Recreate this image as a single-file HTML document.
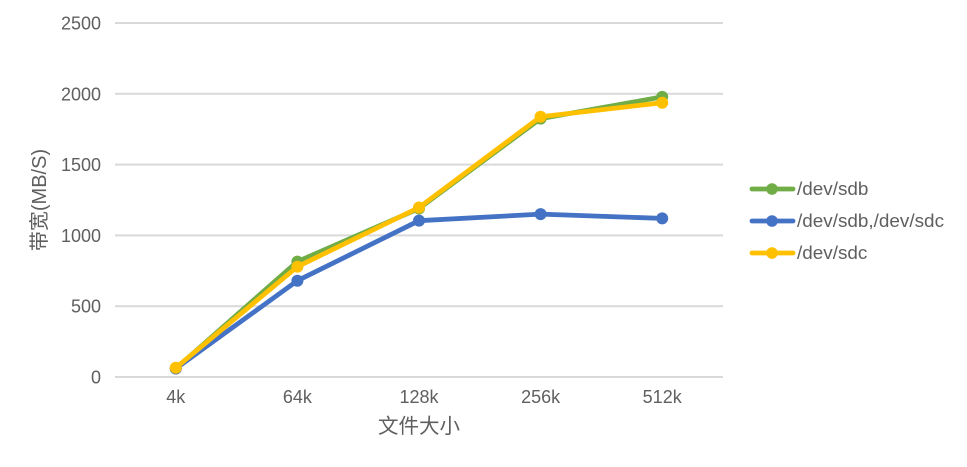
<!DOCTYPE html>
<html>
<head>
<meta charset="utf-8">
<style>
html,body{margin:0;padding:0;background:#fff;}
svg{display:block;font-family:"Liberation Sans","Noto Sans CJK SC",sans-serif;fill:#5f5f5f;}
</style>
</head>
<body>
<svg id="chart" width="967" height="467" viewBox="0 0 967 467" xmlns="http://www.w3.org/2000/svg"></svg>
<script>
const categories = ['4k','64k','128k','256k','512k'];
const yTicks = [0,500,1000,1500,2000,2500];
const sdbName = '/dev/sdb';
const sdbsdcName = '/dev/sdb,/dev/sdc';
const sdcName = '/dev/sdc';
const sdbValues = [60,815,1190,1825,1978];
const sdbsdcValues = [60,680,1104,1150,1120];
const sdcValues = [65,779,1197,1838,1937];
const seriesColors = ['#70ad47','#4472c4','#ffc000'];
const xTitle = '文件大小';
const yTitle = '带宽(MB/S)';

const NS = 'http://www.w3.org/2000/svg';
const svg = document.getElementById('chart');
const left = 115, right = 723, y0 = 377, yTop = 23, yMax = 2500;
const band = (right - left) / categories.length;
const xScale = i => left + band * (i + 0.5);
const yScale = v => y0 - (v / yMax) * (y0 - yTop);

function add(tag, attrs, text, parent) {
  const el = document.createElementNS(NS, tag);
  for (const k in attrs) el.setAttribute(k, attrs[k]);
  if (text !== undefined) el.textContent = text;
  (parent || svg).appendChild(el);
  return el;
}

yTicks.forEach(t => {
  const g = add('line', {x1:left, x2:right, y1:yScale(t), y2:yScale(t), stroke:'#d9d9d9', 'stroke-width':2});
  
  
  const l = add('text', {x:101, y:yScale(t)+6.5, 'text-anchor':'end', 'font-size':18}, String(t));
  
  
});

categories.forEach((c, i) => {
  const l = add('text', {x:xScale(i), y:403, 'text-anchor':'middle', 'font-size':18}, c);
  
  
});

const xt = add('text', {x:419, y:433, 'text-anchor':'middle', 'font-size':20.5}, xTitle);



const yt = add('text', {x:0, y:0, 'text-anchor':'middle', 'font-size':20, transform:'translate(46,200) rotate(-90)'}, yTitle);



const seriesList = [
  {name:sdbName, values:sdbValues, color:seriesColors[0], key:'sdb', ly:189},
  {name:sdbsdcName, values:sdbsdcValues, color:seriesColors[1], key:'sdb-sdc', ly:221},
  {name:sdcName, values:sdcValues, color:seriesColors[2], key:'sdc', ly:253}
];

seriesList.forEach(s => {
  const g = add('g', {});
  
  
  const line = add('polyline', {
    points: s.values.map((v, i) => xScale(i) + ',' + yScale(v)).join(' '),
    fill:'none', stroke:s.color, 'stroke-width':4.8, 'stroke-linecap':'round', 'stroke-linejoin':'round'
  }, undefined, g);
  
  
  s.values.forEach((v, i) => {
    const p = add('circle', {cx:xScale(i), cy:yScale(v), r:6, fill:s.color}, undefined, g);
    
    
  });
});

seriesList.forEach(s => {
  const g = add('g', {});
  
  
  add('line', {x1:752, x2:793, y1:s.ly, y2:s.ly, stroke:s.color, 'stroke-width':4.8, 'stroke-linecap':'round'}, undefined, g);
  add('circle', {cx:772, cy:s.ly, r:5.8, fill:s.color}, undefined, g);
  add('text', {x:797, y:s.ly+6, 'font-size':18.9}, s.name, g);
});
</script>
</body>
</html>
